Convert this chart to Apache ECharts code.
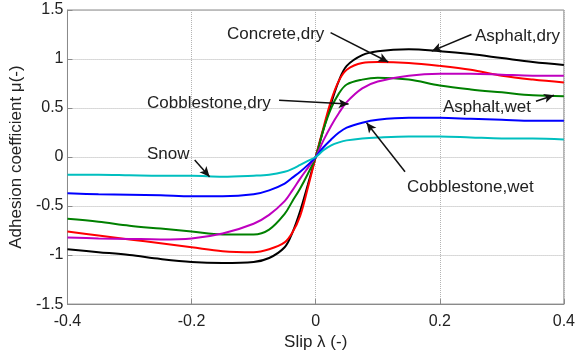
<!DOCTYPE html>
<html>
<head>
<meta charset="utf-8">
<script src="https://cdn.jsdelivr.net/npm/echarts@6/dist/echarts.min.js"></script>
<style>
  html, body { margin: 0; padding: 0; background: #fff; }
  #main { width: 578px; height: 356px; }
</style>
</head>
<body>
<div id="main"></div>
<script>
// slip values (x)
var slip = [-0.4, -0.35, -0.3, -0.25, -0.2, -0.15, -0.1, -0.075, -0.05, -0.0375, -0.025, -0.0125, 0,
            0.0125, 0.025, 0.0375, 0.05, 0.075, 0.1, 0.15, 0.2, 0.25, 0.3, 0.35, 0.4];

// adhesion coefficient per surface
var asphaltDry   = [-0.94, -0.97, -1.00, -1.04, -1.07, -1.08, -1.07, -1.03, -0.92, -0.77, -0.55, -0.28, 0,
                    0.28, 0.55, 0.78, 0.93, 1.04, 1.08, 1.10, 1.08, 1.05, 1.01, 0.97, 0.94];
var concreteDry  = [-0.76, -0.80, -0.84, -0.88, -0.92, -0.96, -0.97, -0.94, -0.87, -0.77, -0.60, -0.31, 0,
                    0.30, 0.58, 0.78, 0.89, 0.96, 0.97, 0.96, 0.93, 0.89, 0.83, 0.79, 0.76];
var asphaltWet   = [-0.63, -0.66, -0.70, -0.73, -0.76, -0.79, -0.79, -0.74, -0.58, -0.45, -0.32, -0.17, 0,
                    0.28, 0.50, 0.65, 0.74, 0.79, 0.81, 0.79, 0.73, 0.69, 0.66, 0.63, 0.62];
var cobbleDry    = [-0.82, -0.83, -0.835, -0.84, -0.83, -0.78, -0.68, -0.59, -0.45, -0.34, -0.22, -0.11, 0,
                    0.17, 0.32, 0.45, 0.56, 0.70, 0.77, 0.83, 0.85, 0.85, 0.84, 0.83, 0.83];
var cobbleWet    = [-0.37, -0.38, -0.385, -0.39, -0.40, -0.40, -0.38, -0.34, -0.27, -0.21, -0.15, -0.08, 0,
                    0.10, 0.18, 0.25, 0.30, 0.35, 0.38, 0.40, 0.40, 0.39, 0.38, 0.37, 0.37];
var snow         = [-0.18, -0.18, -0.185, -0.19, -0.19, -0.20, -0.19, -0.18, -0.15, -0.12, -0.08, -0.04, 0,
                    0.07, 0.12, 0.15, 0.17, 0.19, 0.20, 0.21, 0.21, 0.20, 0.19, 0.19, 0.18];

// annotations: label, arrow start, arrow tip (data coords)
var noteNames = ['Concrete,dry', 'Asphalt,dry', 'Asphalt,wet', 'Cobblestone,dry', 'Cobblestone,wet', 'Snow'];
var noteFrom  = [[0.024, 1.27], [0.251, 1.25], [0.355, 0.57], [-0.059, 0.58], [0.144, -0.15], [-0.195, -0.03]];
var noteTo    = [[0.117, 0.97], [0.187, 1.08], [0.384, 0.63], [0.053, 0.54], [0.082, 0.35], [-0.171, -0.20]];
var notePos   = [[227, 34], [475, 36], [443, 107], [147, 103], [407, 187], [147, 154]];

function pairs(ys) {
    return slip.map(function (x, i) { return [x, ys[i]]; });
}

var myChart = echarts.init(document.getElementById('main'));

var curves = [
    { name: 'Asphalt,dry', data: asphaltDry, color: '#000000' },
    { name: 'Concrete,dry', data: concreteDry, color: '#ff0000' },
    { name: 'Asphalt,wet', data: asphaltWet, color: '#008000' },
    { name: 'Cobblestone,dry', data: cobbleDry, color: '#bf00bf' },
    { name: 'Cobblestone,wet', data: cobbleWet, color: '#0000ff' },
    { name: 'Snow', data: snow, color: '#00bfbf' }
];

var series = curves.map(function (c) {
    return {
        name: c.name,
        type: 'line',
        data: pairs(c.data),
        smooth: 0.35,
        showSymbol: false,
        lineStyle: { color: c.color, width: 2 },
        itemStyle: { color: c.color },
        silent: true,
        z: 3
    };
});

// arrows
series.push({
    type: 'line',
    data: [],
    silent: true,
    markLine: {
        silent: true,
        symbol: ['none', 'arrow'],
        symbolSize: [7, 10],
        label: { show: false },
        lineStyle: { color: '#111', width: 1.5, type: 'solid' },
        data: noteFrom.map(function (p, i) {
            return [{ coord: p }, { coord: noteTo[i] }];
        })
    },
    z: 5
});

var labelFont = { color: '#222', fontSize: 16, fontFamily: 'Liberation Sans' };
var edge = { color: '#8a8a8a' };

myChart.setOption({
    animation: false,
    grid: { left: 65, right: 13, top: 10, bottom: 47, show: true, borderColor: '#8a8a8a', borderWidth: 1 },
    xAxis: {
        type: 'value',
        min: -0.4, max: 0.4, interval: 0.2,
        name: 'Slip λ (-)',
        nameLocation: 'middle',
        nameGap: 24,
        nameTextStyle: { color: '#222', fontSize: 17, fontFamily: 'Liberation Sans' },
        axisLine: { show: true, onZero: false, lineStyle: edge },
        axisTick: { inside: true, length: 5, lineStyle: edge },
        axisLabel: Object.assign({ margin: 9 }, labelFont),
        splitLine: { show: true, lineStyle: { color: '#b4b4b4', type: 'dotted', width: 1 } }
    },
    yAxis: {
        type: 'value',
        min: -1.5, max: 1.5, interval: 0.5,
        name: 'Adhesion coefficient μ(-)',
        nameLocation: 'middle',
        nameGap: 37,
        nameTextStyle: { color: '#222', fontSize: 17, fontFamily: 'Liberation Sans' },
        axisLine: { show: true, onZero: false, lineStyle: edge },
        axisTick: { inside: true, length: 5, lineStyle: edge },
        axisLabel: Object.assign({ margin: 4 }, labelFont),
        splitLine: { show: true, lineStyle: { color: '#b4b4b4', type: 'dotted', width: 1 } }
    },
    graphic: noteNames.map(function (t, i) {
        return {
            type: 'text',
            x: notePos[i][0],
            y: notePos[i][1],
            z: 10,
            style: {
                text: t,
                fill: '#222',
                font: '17px "Liberation Sans"',
                textVerticalAlign: 'middle'
            }
        };
    }),
    series: series
});
</script>
</body>
</html>
